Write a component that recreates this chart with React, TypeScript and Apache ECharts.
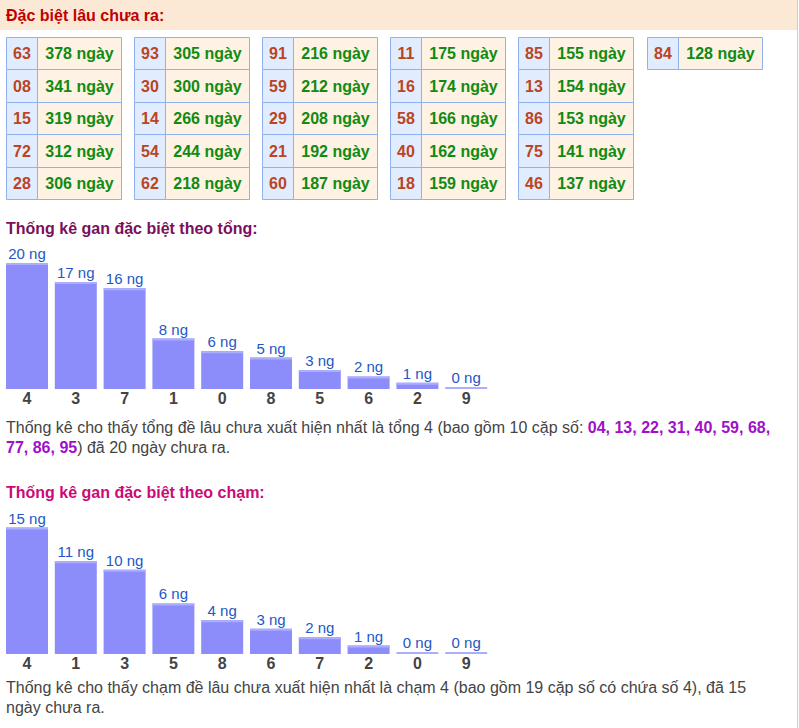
import React, { useEffect, useRef } from "react";
import * as echarts from "echarts";

// ---- Data ----
const lauNumbers = ["63", "08", "15", "72", "28", "93", "30", "14", "54", "62", "91", "59", "29", "21", "60", "11", "16", "58", "40", "18", "85", "13", "86", "75", "46", "84"];
const lauDays = [378, 341, 319, 312, 306, 305, 300, 266, 244, 218, 216, 212, 208, 192, 187, 175, 174, 166, 162, 159, 155, 154, 153, 141, 137, 128];

const tongCategories = ["4", "3", "7", "1", "0", "8", "5", "6", "2", "9"];
const tongValues = [20, 17, 16, 8, 6, 5, 3, 2, 1, 0];

const chamCategories = ["4", "1", "3", "5", "8", "6", "7", "2", "0", "9"];
const chamValues = [15, 11, 10, 6, 4, 3, 2, 1, 0, 0];

const tongPairs = ["04", "13", "22", "31", "40", "59", "68", "77", "86", "95"];

const headerTitle = "Đặc biệt lâu chưa ra:";
const tongTitle = "Thống kê gan đặc biệt theo tổng:";
const chamTitle = "Thống kê gan đặc biệt theo chạm:";
const chamText1 = "Thống kê cho thấy chạm đề lâu chưa xuất hiện nhất là chạm 4 (bao gồm 19 cặp số có chứa số 4), đã 15";
const chamText2 = "ngày chưa ra.";

const FONT = '"Liberation Sans", Arial, sans-serif';

function barRenderer(params: any, api: any) {
  const idx = api.value(0);
  const v = api.value(1);
  const base = api.coord([idx, 0]);
  const top = api.coord([idx, v]);
  const w = api.size([1, 0])[0] * 0.86;
  const x = base[0] - w / 2;
  const h = base[1] - top[1];
  const capY = h > 0 ? top[1] : base[1] - 2;
  return {
    type: "group",
    children: [
      { type: "rect", shape: { x, y: top[1], width: w, height: h }, style: { fill: "#8c8cfa" } },
      { type: "rect", shape: { x, y: capY, width: w, height: 2 }, style: { fill: "#adadfd" } },
      {
        type: "text",
        style: {
          x: base[0],
          y: capY - 2,
          text: v + " ng",
          align: "center",
          verticalAlign: "bottom",
          font: `15px ${FONT}`,
          fill: "#2457c5",
        },
      },
    ],
  };
}

export default function App() {
  const ref = useRef<HTMLDivElement>(null);
  useEffect(() => {
    if (!ref.current) return;
    const chart = echarts.init(ref.current, undefined, { renderer: "svg" });

    const graphics: any[] = [];
    graphics.push({ type: "rect", shape: { x: 0, y: 0, width: 797, height: 30 }, style: { fill: "#fbe9d6" }, silent: true });
    graphics.push({ type: "line", shape: { x1: 797.5, y1: 0, x2: 797.5, y2: 728 }, style: { stroke: "#b8d0f2", lineWidth: 1 } });
    graphics.push({
      type: "text",
      style: { x: 6, y: 15, text: headerTitle, font: `bold 16px ${FONT}`, fill: "#c00000", verticalAlign: "middle" },
    });

    // table
    lauNumbers.forEach((num, k) => {
      const g = Math.floor(k / 5);
      const r = k % 5;
      const x0 = Math.round(6 + 128.1 * g) + 0.5;
      const y0 = Math.round(37 + 32.4 * r) + 0.5;
      const y1 = Math.round(37 + 32.4 * (r + 1)) + 0.5;
      const h = y1 - y0;
      const nw = 31;
      const vw = 84;
      graphics.push({ type: "rect", shape: { x: x0, y: y0, width: nw, height: h }, style: { fill: "#e1edff", stroke: "#8fb2ee", lineWidth: 1 } });
      graphics.push({ type: "rect", shape: { x: x0 + nw, y: y0, width: vw, height: h }, style: { fill: "#fdf2e3", stroke: "#8fb2ee", lineWidth: 1 } });
      graphics.push({
        type: "text",
        style: { x: x0 + nw / 2, y: y0 + h / 2, text: num, font: `bold 16px ${FONT}`, fill: "#bb4422", align: "center", verticalAlign: "middle" },
      });
      graphics.push({
        type: "text",
        style: { x: x0 + nw + vw / 2, y: y0 + h / 2, text: lauDays[k] + " ngày", font: `bold 16px ${FONT}`, fill: "#128a12", align: "center", verticalAlign: "middle" },
      });
    });

    graphics.push({ type: "text", style: { x: 6, y: 228.5, text: tongTitle, font: `bold 16px ${FONT}`, fill: "#7a0f5c", verticalAlign: "middle" } });
    graphics.push({ type: "text", style: { x: 6, y: 492.5, text: chamTitle, font: `bold 16px ${FONT}`, fill: "#cc0a77", verticalAlign: "middle" } });

    const rich = {
      b: { font: `bold 16px ${FONT}`, fill: "#a010c8", color: "#a010c8" },
    };
    const line1 = `Thống kê cho thấy tổng đề lâu chưa xuất hiện nhất là tổng ${tongCategories[0]} (bao gồm ${tongPairs.length} cặp số: {b|${tongPairs.slice(0, 7).join(", ")},}`;
    const line2 = `{b|${tongPairs.slice(7).join(", ")}}) đã ${tongValues[0]} ngày chưa ra.`;
    graphics.push({ type: "text", style: { x: 6, y: 427, text: line1, font: `16px ${FONT}`, fill: "#444444", verticalAlign: "middle", rich } });
    graphics.push({ type: "text", style: { x: 6, y: 447, text: line2, font: `16px ${FONT}`, fill: "#444444", verticalAlign: "middle", rich } });
    graphics.push({ type: "text", style: { x: 6, y: 687, text: chamText1, font: `16px ${FONT}`, fill: "#444444", verticalAlign: "middle" } });
    graphics.push({ type: "text", style: { x: 6, y: 707, text: chamText2, font: `16px ${FONT}`, fill: "#444444", verticalAlign: "middle" } });

    const xAxisCommon = {
      type: "category",
      axisLine: { show: false },
      axisTick: { show: false },
      splitLine: { show: false },
      axisLabel: { margin: 1, fontSize: 16, fontWeight: "bold", color: "#444444", fontFamily: FONT },
    };
    const yAxisCommon = { type: "value", min: 0, show: false, splitLine: { show: false } };

    chart.setOption({
      animation: false,
      backgroundColor: "#ffffff",
      grid: [
        { left: 2.6, width: 488, top: 263, height: 126 },
        { left: 2.6, width: 488, top: 527.5, height: 126.5 },
      ],
      xAxis: [
        { ...xAxisCommon, gridIndex: 0, data: tongCategories },
        { ...xAxisCommon, gridIndex: 1, data: chamCategories },
      ],
      yAxis: [
        { ...yAxisCommon, gridIndex: 0, max: Math.max(...tongValues) },
        { ...yAxisCommon, gridIndex: 1, max: Math.max(...chamValues) },
      ],
      series: [
        {
          type: "custom",
          xAxisIndex: 0,
          yAxisIndex: 0,
          renderItem: barRenderer,
          data: tongValues.map((v, i) => [i, v]),
          encode: { x: 0, y: 1 },
        },
        {
          type: "custom",
          xAxisIndex: 1,
          yAxisIndex: 1,
          renderItem: barRenderer,
          data: chamValues.map((v, i) => [i, v]),
          encode: { x: 0, y: 1 },
        },
      ],
      graphic: graphics,
    });
    return () => chart.dispose();
  }, []);

  return <div ref={ref} style={{ position: "fixed", left: 0, top: 0, width: 799, height: 728 }} />;
}
